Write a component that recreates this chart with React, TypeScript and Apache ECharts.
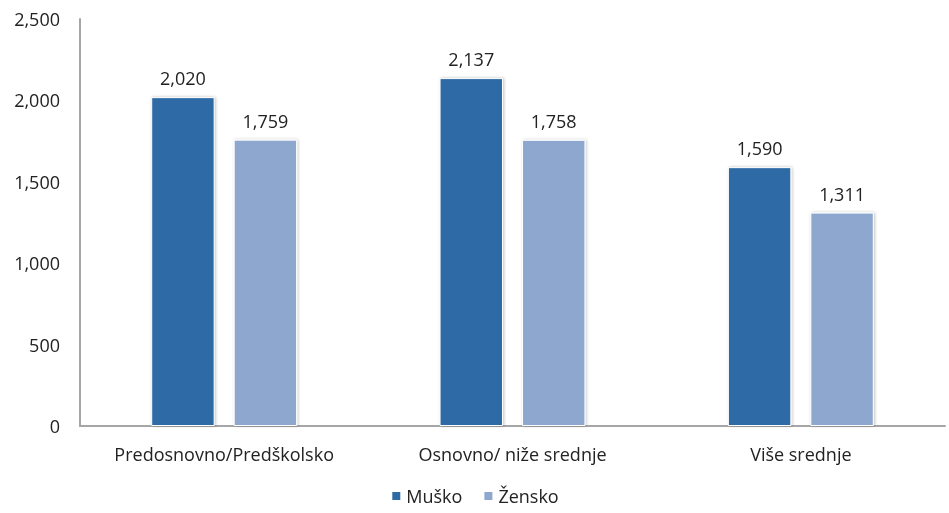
import React, { useEffect, useRef } from "react";
import * as echarts from "echarts";

const categories = ["Predosnovno/Predškolsko", "Osnovno/ niže srednje", "Više srednje"];
const muskoValues = [2020, 2137, 1590];
const zenskoValues = [1759, 1758, 1311];
const seriesNames = ["Muško", "Žensko"];

const FONT = "Open Sans";

export default function App() {
  const ref = useRef<HTMLDivElement>(null);
  useEffect(() => {
    if (!ref.current) return;
    const chart = echarts.init(ref.current, undefined, { renderer: "svg" });
    const fmt = (v: number) => v.toLocaleString("en-US");
    const itemStyleBase = {
      borderColor: "#ffffff",
      borderWidth: 1,
      shadowColor: "rgba(0,0,0,0.25)",
      shadowBlur: 3,
      shadowOffsetX: 1,
      shadowOffsetY: 0,
    };
    const label = {
      show: true,
      position: "top",
      distance: 10,
      color: "#222",
      fontFamily: FONT,
      fontSize: 18,
      formatter: (p: any) => fmt(p.value),
    };
    chart.setOption({
      animation: false,
      textStyle: { fontFamily: FONT },
      grid: { left: 80, right: 4, top: 19, bottom: 87, containLabel: false },
      legend: {
        bottom: 3,
        left: "center",
        itemWidth: 10,
        itemHeight: 10,
        itemGap: 20,
        icon: "rect",
        textStyle: { fontFamily: FONT, fontSize: 18, color: "#222" },
        data: seriesNames,
      },
      xAxis: {
        type: "category",
        data: categories,
        axisLine: { lineStyle: { color: "#a6a6a6", width: 2 } },
        axisTick: { show: false },
        axisLabel: { color: "#222", fontFamily: FONT, fontSize: 18, margin: 19 },
      },
      yAxis: {
        type: "value",
        min: 0,
        max: 2500,
        interval: 500,
        splitLine: { show: false },
        axisLine: { show: true, lineStyle: { color: "#a6a6a6", width: 2 } },
        axisTick: { show: false },
        axisLabel: { color: "#222", fontFamily: FONT, fontSize: 18, margin: 20, formatter: (v: number) => fmt(v) },
      },
      series: [
        {
          name: seriesNames[0],
          type: "bar",
          data: muskoValues,
          barWidth: "22%",
          barGap: "30%",
          itemStyle: { ...itemStyleBase, color: "#2E6BA5" },
          label,
        },
        {
          name: seriesNames[1],
          type: "bar",
          data: zenskoValues,
          barWidth: "22%",
          itemStyle: { ...itemStyleBase, color: "#8EA7CF" },
          label,
        },
      ],
    });
    return () => chart.dispose();
  }, []);
  return <div ref={ref} style={{ position: "fixed", left: 0, top: 0, width: 949, height: 513 }} />;
}
